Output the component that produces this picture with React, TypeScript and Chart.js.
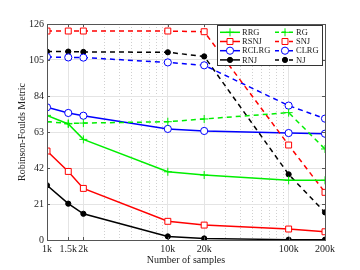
import React, { useEffect, useRef } from 'react';
import { Chart, registerables } from 'chart.js';
Chart.register(...registerables);

const samples = [1000, 1500, 2000, 10000, 20000, 100000, 200000];
const tickLabels: Record<number, string> = { 1000: '1k', 1500: '1.5k', 2000: '2k', 10000: '10k', 20000: '20k', 100000: '100k', 200000: '200k' };
const minorTicks = [3000, 4000, 5000, 6000, 7000, 8000, 9000, 30000, 40000, 50000, 60000, 70000, 80000, 90000];
const yTicks = [0, 21, 42, 63, 84, 105, 126];

const rrg = [72.7, 67.7, 58.7, 39.8, 37.9, 34.8, 34.8];
const rg = [69, 68, 68.2, 69, 70.6, 74.3, 53.1];
const rsnj = [51.9, 40, 30.1, 10.9, 8.7, 6.4, 4.8];
const snj = [121.9, 121.9, 121.9, 121.9, 121.5, 55.4, 27.8];
const rclrg = [77.4, 74.1, 72.5, 64.8, 63.6, 62.4, 62];
const clrg = [106.8, 106.5, 106.4, 103.6, 101.9, 78.4, 70.8];
const rnj = [31.9, 21.2, 15.3, 2.1, 0.9, 0.2, 0.2];
const nj = [109.9, 109.9, 109.7, 109.5, 107.1, 38.3, 16.1];

const FONT = "'Liberation Serif', 'DejaVu Serif', serif";
const DASH = [5, 4];

type Spec = { label: string; data: number[]; color: string; dashed: boolean; marker: string; radius: number; filled: boolean };
const specs: Spec[] = [
  { label: 'RRG', data: rrg, color: '#00ee00', dashed: false, marker: 'cross', radius: 4, filled: false },
  { label: 'RG', data: rg, color: '#00ee00', dashed: true, marker: 'cross', radius: 4, filled: false },
  { label: 'RSNJ', data: rsnj, color: '#ff0000', dashed: false, marker: 'rect', radius: 4.2, filled: false },
  { label: 'SNJ', data: snj, color: '#ff0000', dashed: true, marker: 'rect', radius: 4.2, filled: false },
  { label: 'RCLRG', data: rclrg, color: '#0000ff', dashed: false, marker: 'circle', radius: 3.6, filled: false },
  { label: 'CLRG', data: clrg, color: '#0000ff', dashed: true, marker: 'circle', radius: 3.6, filled: false },
  { label: 'RNJ', data: rnj, color: '#000000', dashed: false, marker: 'circle', radius: 2.6, filled: true },
  { label: 'NJ', data: nj, color: '#000000', dashed: true, marker: 'circle', radius: 2.6, filled: true },
];

function drawMarker(ctx: CanvasRenderingContext2D, s: Spec, x: number, y: number) {
  ctx.save();
  ctx.setLineDash([]);
  ctx.strokeStyle = s.color;
  ctx.lineWidth = 1;
  ctx.beginPath();
  if (s.marker === 'cross') {
    ctx.moveTo(x - s.radius, y); ctx.lineTo(x + s.radius, y);
    ctx.moveTo(x, y - s.radius); ctx.lineTo(x, y + s.radius);
    ctx.stroke();
  } else if (s.marker === 'rect') {
    const h = s.radius * Math.SQRT1_2;
    ctx.rect(x - h, y - h, 2 * h, 2 * h);
    ctx.fillStyle = '#fff'; ctx.fill(); ctx.stroke();
  } else {
    ctx.arc(x, y, s.radius, 0, Math.PI * 2);
    ctx.fillStyle = s.filled ? s.color : '#fff';
    ctx.fill(); ctx.stroke();
  }
  ctx.restore();
}

const framePlugin = {
  id: 'frame',
  afterDatasetsDraw(chart: any) {
    const { ctx, chartArea: a, scales } = chart;
    ctx.save();
    ctx.strokeStyle = '#555';
    ctx.lineWidth = 1;
    ctx.setLineDash([]);
    ctx.strokeRect(Math.round(a.left) + 0.5, Math.round(a.top) + 0.5, Math.round(a.right - a.left), Math.round(a.bottom - a.top));
    ctx.beginPath();
    for (const v of yTicks) {
      const y = Math.round(scales.y.getPixelForValue(v)) + 0.5;
      ctx.moveTo(a.left, y); ctx.lineTo(a.left + 3, y);
      ctx.moveTo(a.right, y); ctx.lineTo(a.right - 3, y);
    }
    for (const v of samples) {
      const x = Math.round(scales.x.getPixelForValue(v)) + 0.5;
      ctx.moveTo(x, a.bottom); ctx.lineTo(x, a.bottom - 3);
      ctx.moveTo(x, a.top); ctx.lineTo(x, a.top + 3);
    }
    ctx.stroke();

    // legend
    const lx = 217.5, ly = 25.5, lw = 105, lh = 40;
    ctx.fillStyle = '#fff';
    ctx.fillRect(lx, ly, lw, lh);
    ctx.strokeStyle = '#333';
    ctx.strokeRect(lx, ly, lw, lh);
    ctx.font = `8.5px ${FONT}`;
    ctx.textBaseline = 'middle';
    ctx.textAlign = 'left';
    specs.forEach((s, i) => {
      const col = i % 2, row = Math.floor(i / 2);
      const x0 = col === 0 ? 220 : 275;
      const y = 32.3 + row * 9.2;
      ctx.save();
      ctx.strokeStyle = s.color;
      ctx.lineWidth = 1.5;
      ctx.setLineDash(s.dashed ? [4, 3] : []);
      ctx.beginPath();
      ctx.moveTo(x0, y); ctx.lineTo(x0 + 20, y);
      ctx.stroke();
      ctx.restore();
      drawMarker(ctx, s, x0 + 10, y);
      ctx.fillStyle = '#222';
      ctx.fillText(s.label, col === 0 ? 242 : 296, y + 0.5);
    });
    ctx.restore();
  },
};

export default function App() {
  const ref = useRef<HTMLCanvasElement>(null);
  useEffect(() => {
    const chart = new Chart(ref.current!, {
      type: 'line',
      data: {
        datasets: specs.map((s) => ({
          label: s.label,
          data: samples.map((x, i) => ({ x, y: s.data[i] })),
          borderColor: s.color,
          backgroundColor: s.filled ? s.color : '#fff',
          borderWidth: 1.5,
          borderDash: s.dashed ? DASH : [],
          pointStyle: s.marker as any,
          pointRadius: s.radius,
          pointBorderWidth: 1,
          pointBorderColor: s.color,
          pointBackgroundColor: s.filled ? s.color : '#fff',
          tension: 0,
          fill: false,
        })),
      },
      options: {
        responsive: false,
        animation: false,
        layout: { padding: { left: 0, top: 24, right: 35, bottom: 0 } },
        plugins: { legend: { display: false }, tooltip: { enabled: false } },
        scales: {
          x: {
            type: 'logarithmic',
            min: 1000,
            max: 200000,
            afterBuildTicks: (scale: any) => {
              scale.ticks = [...samples, ...minorTicks].sort((a, b) => a - b).map((v) => ({ value: v }));
            },
            afterFit: (scale: any) => { scale.height = 30; },
            ticks: {
              autoSkip: false,
              maxRotation: 0,
              padding: 3,
              color: '#222',
              font: { family: FONT, size: 10 },
              callback: (v: any) => tickLabels[Number(v)] ?? '',
            },
            grid: {
              drawTicks: false,
              color: (c: any) => (tickLabels[c.tick?.value] ? '#e4e4e4' : '#d0d0d0'),
              lineWidth: 1,
            },
            border: {
              display: false,
              dash: (c: any) => (tickLabels[c.tick?.value] ? [] : [1, 2]),
            } as any,
            title: {
              display: true,
              text: 'Number of samples',
              color: '#222',
              font: { family: FONT, size: 10 },
              padding: { top: 0, bottom: 4 },
            },
          },
          y: {
            min: 0,
            max: 126,
            afterBuildTicks: (scale: any) => {
              scale.ticks = yTicks.map((v) => ({ value: v }));
            },
            afterFit: (scale: any) => { scale.width = 47; },
            ticks: {
              padding: 3,
              color: '#222',
              font: { family: FONT, size: 10 },
            },
            grid: { drawTicks: false, color: '#e4e4e4', lineWidth: 1 },
            border: { display: false },
            title: {
              display: true,
              text: 'Robinson-Foulds Metric',
              color: '#222',
              font: { family: FONT, size: 10 },
              padding: { top: 16, bottom: 0 },
            },
          },
        },
      } as any,
      plugins: [framePlugin],
    });
    return () => chart.destroy();
  }, []);
  return (
    <div style={{ position: 'fixed', left: 0, top: 0, width: 360, height: 270, background: '#fff' }}>
      <canvas ref={ref} width={360} height={270} style={{ width: 360, height: 270, display: 'block' }} />
    </div>
  );
}
